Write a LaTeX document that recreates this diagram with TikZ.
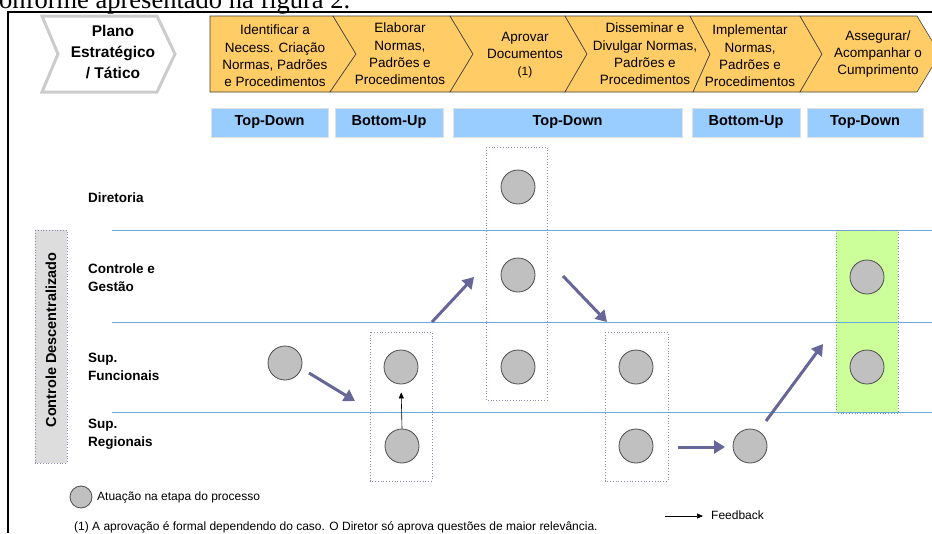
\documentclass[tikz,border=0pt]{standalone}
\usepackage{fontspec}
\setmainfont{Liberation Sans}
\newfontfamily\seriffont{Liberation Serif}
\usetikzlibrary{arrows.meta}
\definecolor{orangeF}{HTML}{FFCC66}
\definecolor{blueF}{HTML}{99CCFF}
\definecolor{greenF}{HTML}{CCFF99}
\definecolor{arrowC}{HTML}{666699}
\definecolor{laneC}{HTML}{66AADD}
\definecolor{grpC}{HTML}{8888BB}
\definecolor{circG}{HTML}{C0C0C0}
\definecolor{labelG}{HTML}{DDDDDD}
\begin{document}
\begin{tikzpicture}[x=1pt,y=-1pt,
  chev/.style={fill=orangeF, draw=black!75, line width=0.6pt, line join=miter},
  chevtext/.style={align=center, font=\fontsize{13.5}{17.3}\selectfont, inner sep=0},
  modebox/.style={fill=blueF, draw=black!12, line width=1pt, minimum height=29pt, inner sep=0, font=\bfseries\fontsize{14.5}{16}\selectfont},
  act/.style={circle, fill=circG, draw=black!70, line width=0.8pt, minimum size=34pt, inner sep=0},
  flow/.style={draw=arrowC, line width=3pt, -{Triangle[length=11pt,width=13pt]}},
  fb/.style={draw=black, line width=0.6pt, -{Triangle[length=6pt,width=5pt]}},
  lane/.style={draw=laneC, line width=1pt},
  grp/.style={draw=grpC, dotted, line width=0.8pt},
  rowlabel/.style={anchor=west, align=left, font=\bfseries\fontsize{13.5}{18}\selectfont, inner sep=0},
  small/.style={anchor=west, inner sep=0, font=\fontsize{12}{13}\selectfont}]
\useasboundingbox (0,0) rectangle (932,533);
\clip (0,0) rectangle (932,533);
\fill[white] (0,0) rectangle (932,533);

% top caption fragment
\node[anchor=base west, inner sep=0, font=\seriffont\fontsize{26.5}{30}\selectfont] (cap) at (-1,8) {onforme apresentado na figura 2.};

% frame
\draw[line width=2pt] (8,533) -- (8,12) -- (940,12);

% Plano chevron
\draw[draw=black!20, line width=3pt, fill=white, line join=miter] (42,16) -- (157,16) -- (175,54) -- (157,92) -- (42,92) -- (58,54) -- cycle;
\node[align=center, inner sep=0, font=\bfseries\fontsize{15.5}{21}\selectfont] (plano) at (113,52) {Plano\\Estratégico\\/ Tático};

% orange chevrons
\draw[chev] (210,16) -- (333,16) -- (356,54) -- (330,92) -- (210,92) -- cycle;
\draw[chev] (333,16) -- (450,16) -- (473,54) -- (450,92) -- (330,92) -- (356,54) -- cycle;
\draw[chev] (450,16) -- (565,16) -- (587,54) -- (565,92) -- (450,92) -- (473,54) -- cycle;
\draw[chev] (565,16) -- (690,16) -- (710,54) -- (693,92) -- (565,92) -- (587,54) -- cycle;
\draw[chev] (690,16) -- (800,16) -- (822,54) -- (800,92) -- (693,92) -- (710,54) -- cycle;
\draw[chev] (800,16) -- (917,16) -- (940,54) -- (917,92) -- (800,92) -- (822,54) -- cycle;

\node[chevtext] (s1) at (275,56) {Identificar a\\Necess. Criação\\Normas, Padrões\\e Procedimentos};
\node[chevtext] (s2) at (400,54) {Elaborar\\Normas,\\Padrões e\\Procedimentos};
\node[chevtext] (s3) at (525,55) {Aprovar\\Documentos\\{\fontsize{12}{13}\selectfont(1)}};
\node[chevtext] (s4) at (645,54) {Disseminar e\\Divulgar Normas,\\Padrões e\\Procedimentos};
\node[chevtext] (s5) at (750,56) {Implementar\\Normas,\\Padrões e\\Procedimentos};
\node[chevtext] (s6) at (878,54) {Assegurar/\\Acompanhar o\\Cumprimento};

% mode boxes
\node[modebox, minimum width=117pt] (m1) at (269.5,122.5) {Top-Down};
\node[modebox, minimum width=108pt] (m2) at (389,122.5) {Bottom-Up};
\node[modebox, minimum width=229pt] (m3) at (567.5,122.5) {Top-Down};
\node[modebox, minimum width=108pt] (m4) at (746,122.5) {Bottom-Up};
\node[modebox, minimum width=116pt] (m5) at (865,122.5) {Top-Down};

% side label
\draw[grp, fill=labelG] (35,230) rectangle (67,463);
\node[rotate=90, inner sep=0, font=\bfseries\fontsize{14.5}{16}\selectfont] (side) at (51,340) {Controle Descentralizado};

% row labels
\node[rowlabel] (r1) at (88,198) {Diretoria};
\node[rowlabel] (r2) at (88,278) {Controle e\\Gestão};
\node[rowlabel] (r3) at (88,367) {Sup.\\Funcionais};
\node[rowlabel] (r4) at (88,434.5) {Sup.\\Regionais};

% green highlight
\fill[greenF] (836,230) rectangle (898,413);

% lanes
\draw[lane] (112,230) -- (940,230);
\draw[lane] (112,322) -- (940,322);
\draw[lane] (112,412) -- (940,412);

% group boxes
\draw[grp] (486,147) rectangle (547,400);
\draw[grp] (370,332) rectangle (432,481);
\draw[grp] (605,332) rectangle (668,481);
\draw[grp] (836,230) rectangle (898,413);

% activity circles
\node[act] (d3) at (518,187) {};
\node[act] (c3) at (518,275) {};
\node[act] (c6) at (867,277) {};
\node[act] (f1) at (285,363) {};
\node[act] (f2) at (401,367) {};
\node[act] (f3) at (518,367) {};
\node[act] (f4) at (636,367) {};
\node[act] (f6) at (867,367) {};
\node[act] (g2) at (402,446) {};
\node[act] (g4) at (636,446) {};
\node[act] (g5) at (750,446) {};

% flow arrows
\coordinate (a1s) at (309,373); \coordinate (a1e) at (355,401);
\coordinate (a2s) at (432,322); \coordinate (a2e) at (474,277);
\coordinate (a3s) at (563,276); \coordinate (a3e) at (607,322);
\coordinate (a4s) at (678,447); \coordinate (a4e) at (725,447);
\coordinate (a5s) at (766,421); \coordinate (a5e) at (823,344);
\draw[flow] (a1s) -- (a1e);
\draw[flow] (a2s) -- (a2e);
\draw[flow] (a3s) -- (a3e);
\draw[flow] (a4s) -- (a4e);
\draw[flow] (a5s) -- (a5e);

% feedback
\draw[fb, shorten >=8pt] (g2.north) -- (f2.south);

% legend
\node[act, minimum size=22pt] (lc) at (81,497) {};
\node[small] (lt) at (97,497) {Atuação na etapa do processo};
\node[small] (note) at (74,527) {(1) A aprovação é formal dependendo do caso. O Diretor só aprova questões de maior relevância.};
\coordinate (fbs) at (665,516);
\coordinate (fbe) at (703,516);
\draw[fb] (fbs) -- (fbe);
\node[small] (fbt) at (711,515) {Feedback};
\end{tikzpicture}
\end{document}
